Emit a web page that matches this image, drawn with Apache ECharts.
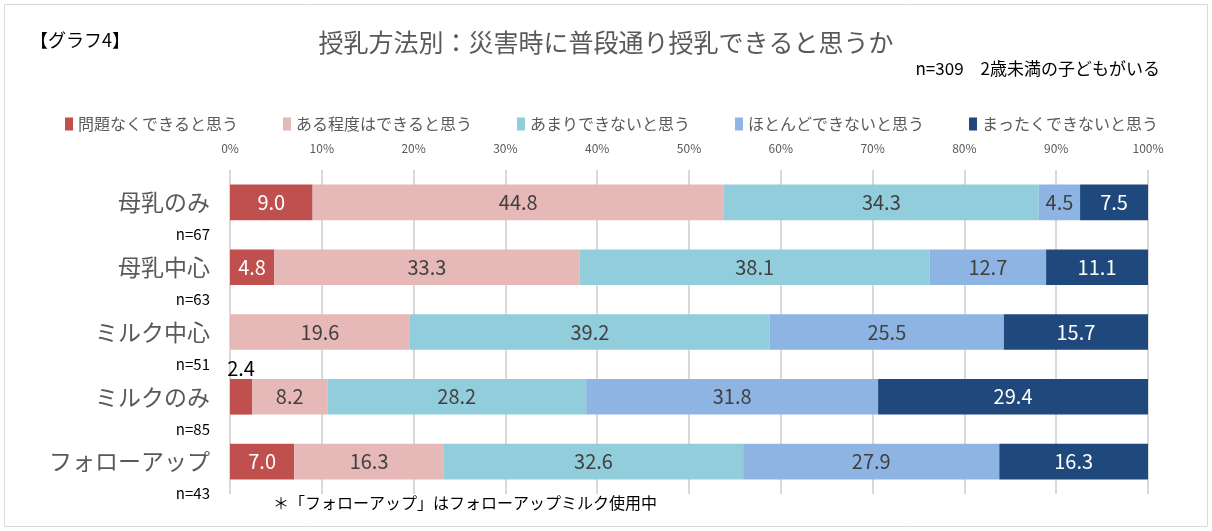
<!DOCTYPE html>
<html>
<head>
<meta charset="utf-8">
<script src="https://cdn.jsdelivr.net/npm/echarts@6/dist/echarts.min.js"></script>
<style>
  html, body { margin: 0; padding: 0; background: #fff; }
  #chart { width: 1212px; height: 531px; }
</style>
</head>
<body>
<div id="chart"></div>
<script>
  // 授乳方法別の回答割合 (%)
  var categories = ['母乳のみ', '母乳中心', 'ミルク中心', 'ミルクのみ', 'フォローアップ'];
  var sampleSizes = ['n=67', 'n=63', 'n=51', 'n=85', 'n=43'];
  var seriesNames = ['問題なくできると思う', 'ある程度はできると思う', 'あまりできないと思う', 'ほとんどできないと思う', 'まったくできないと思う'];
  var noProblem = [9.0, 4.8, null, 2.4, 7.0];
  var somewhat = [44.8, 33.3, 19.6, 8.2, 16.3];
  var notMuch = [34.3, 38.1, 39.2, 28.2, 32.6];
  var hardly = [4.5, 12.7, 25.5, 31.8, 27.9];
  var notAtAll = [7.5, 11.1, 15.7, 29.4, 16.3];
  var tickLabels = ['0%', '10%', '20%', '30%', '40%', '50%', '60%', '70%', '80%', '90%', '100%'];

  var colors = ['#C0504D', '#E6B9B8', '#92CDDC', '#8EB4E3', '#1F497D'];
  var labelColors = ['#ffffff', '#404040', '#404040', '#404040', '#ffffff'];
  var values = [noProblem, somewhat, notMuch, hardly, notAtAll];
  var FONT = '"Noto Sans CJK JP", "Noto Sans", sans-serif';

  var chart = echarts.init(document.getElementById('chart'));

  var series = values.map(function (arr, i) {
    return {
      name: seriesNames[i],
      type: 'bar',
      stack: 'total',
      barWidth: '55%',
      itemStyle: { color: colors[i] },
      label: {
        show: true,
        position: 'inside',
        color: labelColors[i],
        fontSize: 20,
        fontFamily: FONT,
        formatter: function (p) { return p.value == null ? '' : p.value.toFixed(1); }
      },
      data: arr.map(function (v) {
        // 細すぎる区間(2.4)はバーの上に表示
        if (i === 0 && v != null && v < 3) {
          return { value: v, label: { position: 'top', color: '#000', distance: 1 } };
        }
        return v;
      })
    };
  });

  chart.setOption({
    animation: false,
    textStyle: { fontFamily: FONT },
    graphic: [
      { type: 'rect', shape: { x: 4.5, y: 4.5, width: 1203, height: 522 },
        style: { fill: 'none', stroke: '#d9d9d9', lineWidth: 1 } },
      { type: 'text', left: 30, top: 31,
        style: { text: '【グラフ4】', fontSize: 18, fill: '#000', fontFamily: FONT } },
      { type: 'text', right: 52, top: 60,
        style: { text: 'n=309　2歳未満の子どもがいる', fontSize: 17, fill: '#000', fontFamily: FONT } },
      { type: 'text', left: 273, top: 495,
        style: { text: '＊「フォローアップ」はフォローアップミルク使用中', fontSize: 16, fill: '#000', fontFamily: FONT } }
    ],
    title: {
      text: '授乳方法別：災害時に普段通り授乳できると思うか',
      left: 'center',
      top: 25,
      textStyle: { fontSize: 25, fontWeight: 'normal', color: '#595959', fontFamily: FONT }
    },
    legend: {
      left: 60,
      top: 111,
      itemWidth: 8,
      itemHeight: 13,
      itemGap: 45,
      icon: 'rect',
      textStyle: { fontSize: 16, color: '#595959', fontFamily: FONT },
      data: seriesNames
    },
    grid: { left: 230, right: 64, top: 170, bottom: 37, containLabel: false },
    xAxis: {
      type: 'value',
      position: 'top',
      min: 0,
      max: 100,
      interval: 10,
      axisLine: { show: false },
      axisTick: { show: false },
      splitLine: { lineStyle: { color: '#d9d9d9', width: 2 } },
      axisLabel: {
        fontSize: 12,
        color: '#595959',
        margin: 16,
        formatter: function (v) { return tickLabels[Math.round(v / 10)]; }
      }
    },
    yAxis: {
      type: 'category',
      inverse: true,
      data: categories,
      axisLine: { show: false },
      axisTick: { show: false },
      axisLabel: {
        margin: 20,
        align: 'right',
        padding: [34, 0, 0, 0],
        formatter: function (v, i) { return '{a|' + v + '}\n{b|' + sampleSizes[i] + '}'; },
        rich: {
          a: { fontSize: 23, color: '#595959', lineHeight: 30, align: 'right', fontFamily: FONT },
          b: { fontSize: 15, color: '#000', lineHeight: 34, align: 'right', fontFamily: FONT }
        }
      }
    },
    series: series
  });
</script>
</body>
</html>
